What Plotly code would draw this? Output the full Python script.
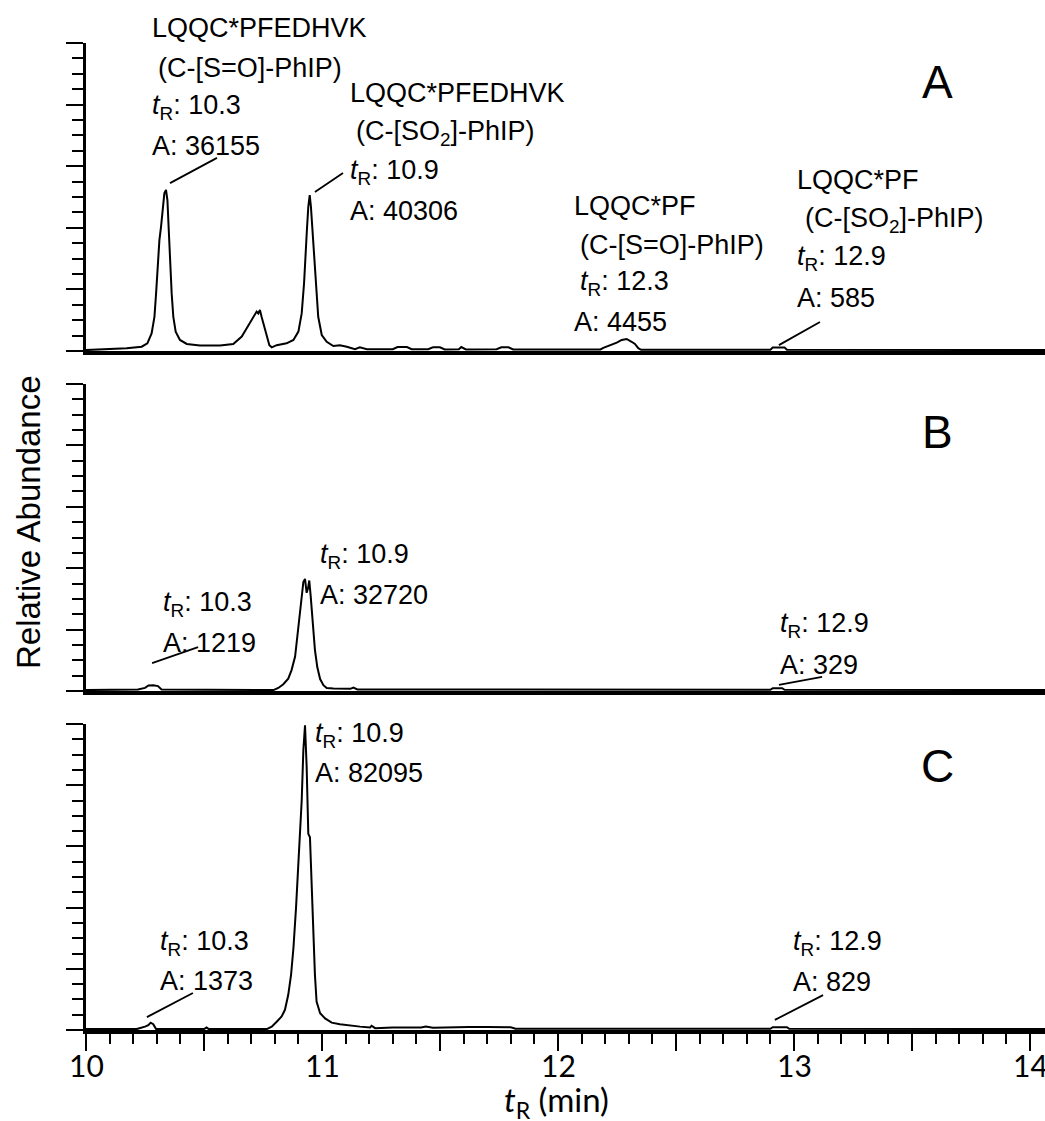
import plotly.graph_objects as go

# ---------------- data ----------------
# Panel A chromatogram: retention time (min), relative abundance (%)
time_a = [10.00, 10.172, 10.236, 10.260, 10.278, 10.290, 10.297, 10.304, 10.311, 10.318,
          10.325, 10.332, 10.339, 10.345, 10.350, 10.356, 10.363, 10.370, 10.380, 10.398,
          10.427, 10.483, 10.568, 10.624, 10.660, 10.681, 10.695, 10.706, 10.716, 10.723,
          10.730, 10.737, 10.744, 10.754, 10.766, 10.777, 10.787, 10.808, 10.850, 10.879,
          10.900, 10.914, 10.924, 10.931, 10.936, 10.942, 10.948, 10.953, 10.960, 10.966,
          10.975, 10.984, 10.999, 11.020, 11.048, 11.076, 11.105, 11.14, 11.16, 11.19,
          11.30, 11.32, 11.36, 11.38, 11.45, 11.47, 11.50, 11.52, 11.58, 11.59,
          11.61, 11.74, 11.76, 11.79, 11.81, 12.18, 12.192, 12.212, 12.249, 12.270,
          12.291, 12.312, 12.326, 12.340, 12.352, 12.90, 12.91, 12.96, 12.97, 14.07]
abund_a = [0.3, 0.9, 1.4, 2.5, 5.7, 11.1, 18.7, 27.4, 36.0, 40.4,
           46.9, 51.2, 52.3, 49.0, 40.4, 29.5, 18.7, 11.1, 6.3, 3.6,
           2.3, 1.8, 1.8, 2.3, 4.7, 7.4, 9.2, 10.6, 11.7, 12.8,
           12.2, 13.3, 11.1, 8.4, 5.2, 1.9, 1.2, 1.9, 2.5, 3.6,
           6.3, 12.2, 22.0, 33.9, 39.3, 46.9, 50.6, 46.9, 38.2, 31.7,
           20.9, 11.1, 5.2, 3.0, 1.6, 1.9, 1.4, 0.6, 1.2, 0.6,
           0.6, 1.3, 1.3, 0.6, 0.6, 1.2, 1.2, 0.5, 0.6, 1.3,
           0.5, 0.6, 1.2, 1.2, 0.5, 0.5, 1.0, 1.6, 2.7, 3.6,
           3.9, 3.0, 2.3, 0.9, 0.4, 0.4, 1.1, 1.1, 0.4, 0.3]

# Panel B chromatogram
time_b = [10.00, 10.22, 10.25, 10.265, 10.285, 10.305, 10.32, 10.45, 10.794, 10.815,
          10.836, 10.857, 10.871, 10.886, 10.895, 10.904, 10.912, 10.921, 10.928, 10.935,
          10.941, 10.946, 10.952, 10.960, 10.970, 10.980, 10.992, 11.006, 11.020, 11.048,
          11.12, 11.133, 11.15, 12.90, 12.91, 12.95, 12.96, 14.07]
abund_b = [0.3, 0.5, 1.0, 1.8, 1.9, 1.6, 0.5, 0.4, 0.3, 1.0,
           2.2, 4.0, 6.8, 11.2, 17.9, 24.6, 30.2, 35.5, 36.5, 32.0,
           33.5, 36.0, 31.0, 22.0, 13.4, 7.8, 3.9, 1.9, 1.0, 0.8,
           0.7, 1.1, 0.5, 0.4, 0.9, 0.9, 0.4, 0.3]

# Panel C chromatogram
time_c = [10.00, 10.215, 10.250, 10.264, 10.274, 10.285, 10.297, 10.50, 10.511, 10.52,
          10.766, 10.787, 10.808, 10.829, 10.843, 10.857, 10.869, 10.879, 10.890, 10.900,
          10.907, 10.914, 10.921, 10.928, 10.935, 10.942, 10.949, 10.956, 10.963, 10.970,
          10.977, 10.992, 11.013, 11.041, 11.076, 11.119, 11.161, 11.203, 11.21, 11.225,
          11.30, 11.42, 11.44, 11.47, 11.55, 11.59, 11.62, 11.70, 11.80, 11.82,
          12.90, 12.91, 12.97, 12.98, 14.07]
abund_c = [0.3, 0.3, 1.1, 1.6, 2.4, 1.9, 0.3, 0.3, 0.8, 0.3,
           0.3, 1.1, 2.7, 4.4, 6.6, 11.5, 18.1, 26.8, 40.0, 53.1,
           61.9, 75.0, 91.5, 99.6, 86.0, 64.1, 63.0, 46.5, 31.2, 18.1,
           9.3, 5.5, 3.8, 2.4, 1.9, 1.4, 1.1, 0.8, 1.4, 0.6,
           0.8, 0.8, 1.1, 0.7, 0.9, 0.9, 1.0, 1.0, 0.9, 0.4,
           0.4, 0.9, 0.9, 0.4, 0.3]

x_tick_vals = [10, 10.5, 11, 11.5, 12, 12.5, 13, 13.5, 14]
x_label_vals = [10, 11, 12, 13, 14]
x_label_text = ["10", "11", "12", "13", "14"]

# ---------------- layout helpers (pixel -> paper) ----------------
L, R, T, B = 86, 1045, 43, 1030
def px(x):
    return (x - L) / (R - L)
def py(y):
    return (B - y) / (B - T)

X_RANGE = [10, 10 + (R - L) / 236.0]

fig = go.Figure()
line_style = dict(color="black", width=2)
fig.add_trace(go.Scatter(x=time_a, y=abund_a, mode="lines", line=line_style,
                         xaxis="x", yaxis="y", showlegend=False, hoverinfo="skip"))
fig.add_trace(go.Scatter(x=time_b, y=abund_b, mode="lines", line=line_style,
                         xaxis="x2", yaxis="y2", showlegend=False, hoverinfo="skip"))
fig.add_trace(go.Scatter(x=time_c, y=abund_c, mode="lines", line=line_style,
                         xaxis="x3", yaxis="y3", showlegend=False, hoverinfo="skip"))

domA = [py(351), 1.0]
domB = [py(691), py(384)]
domC = [0.0, py(724)]

yaxis_common = dict(range=[0, 100], showline=True, linecolor="black", linewidth=3,
                    ticks="outside", tickcolor="black", tickwidth=2, ticklen=17,
                    tick0=0, dtick=20, showticklabels=False, showgrid=False,
                    zeroline=False, automargin=False, fixedrange=True,
                    minor=dict(ticks="outside", dtick=5, tick0=0, ticklen=11,
                               tickwidth=2, tickcolor="black", showgrid=False))
xaxis_plain = dict(range=X_RANGE, showline=True, linecolor="black", linewidth=3.5,
                   ticks="", showticklabels=False, showgrid=False, zeroline=False,
                   automargin=False, fixedrange=True)
xaxis_bottom = dict(range=X_RANGE, showline=True, linecolor="black", linewidth=3.5,
                    ticks="outside", tickcolor="black", tickwidth=2, ticklen=17,
                    tickmode="array", tickvals=x_tick_vals, showticklabels=False,
                    showgrid=False, zeroline=False, automargin=False, fixedrange=True,
                    minor=dict(ticks="outside", dtick=0.1, tick0=10, ticklen=10,
                               tickwidth=2, tickcolor="black", showgrid=False))

fig.update_layout(
    width=1045, height=1121,
    margin=dict(l=L, r=1045 - R, t=T, b=1121 - B, pad=0),
    paper_bgcolor="white", plot_bgcolor="white",
    xaxis=dict(domain=[0, 1], anchor="y", **xaxis_plain),
    yaxis=dict(domain=domA, anchor="x", **yaxis_common),
    xaxis2=dict(domain=[0, 1], anchor="y2", **xaxis_plain),
    yaxis2=dict(domain=domB, anchor="x2", **yaxis_common),
    xaxis3=dict(domain=[0, 1], anchor="y3", **xaxis_bottom),
    yaxis3=dict(domain=domC, anchor="x3", **yaxis_common),
)

TF = "Liberation Sans, Arial, sans-serif"
TS = 27
ann = []
def txt(x, y, s, size=TS, family=TF, xanchor="left", angle=0, xref="paper"):
    ann.append(dict(x=px(x) if xref == "paper" else x, y=py(y), xref=xref, yref="paper",
                    text=s, showarrow=False, xanchor=xanchor, yanchor="middle",
                    textangle=angle, font=dict(family=family, size=size, color="black")))

tr = "<i>t</i><sub>R</sub>: "
# Panel A labels
txt(150, 28, "LQQC*PFEDHVK")
txt(156, 68, "(C-[S=O]-PhIP)")
txt(150, 107, tr + "10.3")
txt(150, 146, "A: 36155")
txt(348, 93, "LQQC*PFEDHVK")
txt(354, 133, "(C-[SO<sub>2</sub>]-PhIP)")
txt(348, 172, tr + "10.9")
txt(348, 211, "A: 40306")
txt(572, 206, "LQQC*PF")
txt(578, 245, "(C-[S=O]-PhIP)")
txt(578, 283, tr + "12.3")
txt(572, 322, "A: 4455")
txt(795, 180, "LQQC*PF")
txt(803, 220, "(C-[SO<sub>2</sub>]-PhIP)")
txt(795, 258, tr + "12.9")
txt(795, 298, "A: 585")
# Panel B labels
txt(161, 604, tr + "10.3")
txt(161, 643, "A: 1219")
txt(318, 556, tr + "10.9")
txt(318, 595, "A: 32720")
txt(778, 625, tr + "12.9")
txt(778, 665, "A: 329")
# Panel C labels
txt(158, 943, tr + "10.3")
txt(158, 981, "A: 1373")
txt(313, 735, tr + "10.9")
txt(313, 773, "A: 82095")
txt(791, 943, tr + "12.9")
txt(791, 982, "A: 829")
# panel letters
txt(937, 82, "A", size=46, xanchor="center")
txt(937, 432, "B", size=46, xanchor="center")
txt(937, 766, "C", size=46, xanchor="center")
# x tick labels (placed on the bottom axis scale)
for v, s in zip(x_label_vals, x_label_text):
    txt(v, 1065, s, size=30, family="Lato", xanchor="center", xref="x3")
# axis titles
txt(28, 522, "Relative Abundance", size=33, xanchor="center", angle=-90)
txt(556, 1101, "<i>t</i><sub>R</sub> (min)", size=33, family="Lato", xanchor="center")
fig.update_layout(annotations=ann)

# pointer lines (data coordinates of each panel)
pointers = [
    ("x", "y", 10.356, 54.5, 10.555, 62.7),
    ("x", "y", 10.970, 51.6, 11.089, 57.8),
    ("x", "y", 12.936, 1.9, 13.110, 9.4),
    ("x2", "y2", 10.280, 9.1, 10.475, 14.3),
    ("x2", "y2", 12.936, 2.0, 13.119, 4.6),
    ("x3", "y3", 10.258, 4.2, 10.453, 12.1),
    ("x3", "y3", 12.919, 3.3, 13.123, 11.4),
]
for xr, yr, x0, y0, x1, y1 in pointers:
    fig.add_shape(type="line", xref=xr, yref=yr, x0=x0, y0=y0, x1=x1, y1=y1,
                  line=dict(color="black", width=1.8))

fig.write_html("out.html")
